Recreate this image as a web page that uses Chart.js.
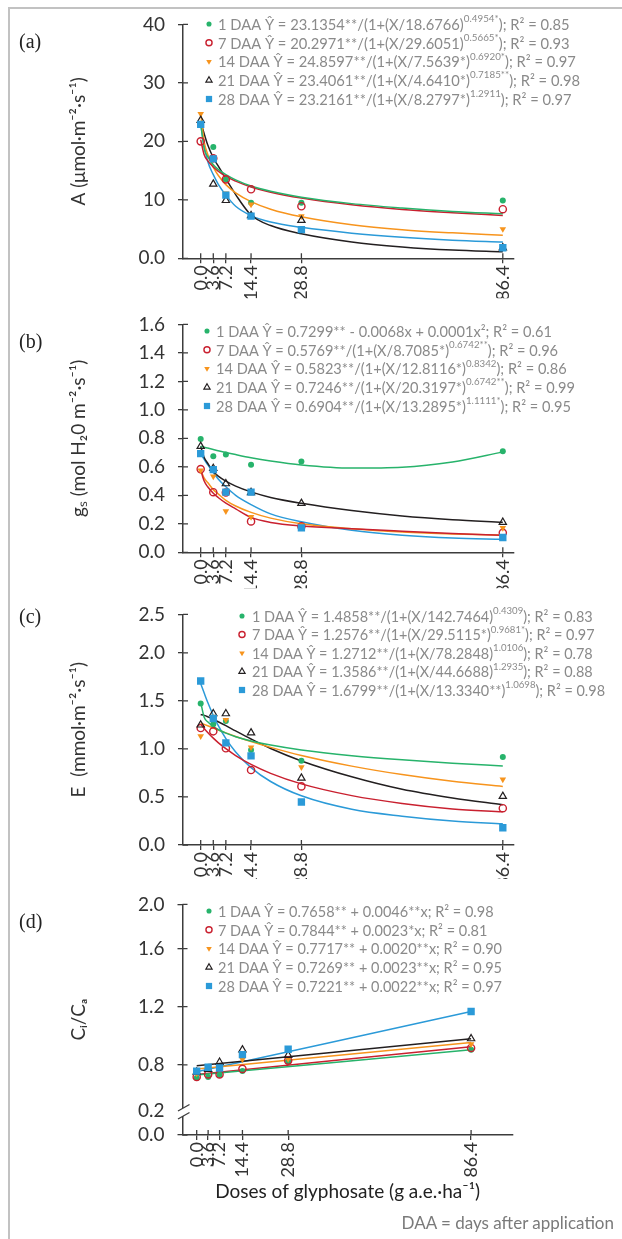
<!DOCTYPE html>
<html>
<head>
<meta charset="utf-8">
<script src="https://cdn.jsdelivr.net/npm/chart.js@4.4.1/dist/chart.umd.min.js"></script>
<style>
  body { margin: 0; background: #fff; }
  #page { position: relative; width: 622px; height: 1239px; overflow: hidden; }
  #frame { position: absolute; left: 8px; top: 7px; width: 700px; height: 1300px;
           border-top: 2px solid #c2c2c2; border-left: 2px solid #c2c2c2; }
  canvas { position: absolute; left: 0; }
  .tag { position: absolute; left: 19px; font: 20px "Liberation Serif", serif; color: #222; }
  #note { position: absolute; right: 8px; top: 1212px; font: 17px Lato, sans-serif; color: #7a7a7a; }
</style>
</head>
<body>
<div id="page">
  <div id="frame"></div>
  <canvas id="chartA" width="622" height="300" style="top:0px"></canvas>
  <canvas id="chartB" width="622" height="290" style="top:300px"></canvas>
  <canvas id="chartC" width="622" height="290" style="top:590px"></canvas>
  <canvas id="chartD" width="622" height="359" style="top:880px"></canvas>
  <div class="tag" style="top:30px">(a)</div>
  <div class="tag" style="top:330px">(b)</div>
  <div class="tag" style="top:605px">(c)</div>
  <div class="tag" style="top:910px">(d)</div>
  <div id="note">DAA = days after application</div>
</div>
<script>
// glyphosate doses (g a.e./ha) where leaves were measured
const doses = [0, 3.6, 7.2, 14.4, 28.8, 86.4];
const fitX = [0, 1, 2, 3.6, 5, 7.2, 10, 14.4, 20, 28.8, 43.2, 57.6, 72, 86.4];
const lineX = [0, 86.4];
const daa = ['1 DAA', '7 DAA', '14 DAA', '21 DAA', '28 DAA'];

// (a) A, net photosynthesis
const aTicks = [0, 10, 20, 30, 40];
const aObs = [
  [23.0, 19.05, 13.5, 9.5, 9.5, 9.9],
  [20.0, 17.1, 13.5, 11.8, 8.9, 8.4],
  [24.7, 17.0, 11.1, 9.2, 7.2, 5.0],
  [23.6, 12.7, 9.9, 7.3, 6.5, 1.8],
  [22.9, 17.0, 10.8, 7.2, 4.9, 1.8]
];
const aFit = [
  [23.1, 18.7, 17.4, 16.0, 15.2, 14.3, 13.4, 12.35, 11.45, 10.45, 9.35, 8.6, 8.0, 7.6],
  [20.3, 17.7, 16.7, 15.6, 14.9, 14.0, 13.2, 12.2, 11.3, 10.3, 9.15, 8.35, 7.8, 7.33],
  [24.9, 19.9, 17.8, 15.6, 14.2, 12.6, 11.2, 9.7, 8.4, 7.1, 5.75, 4.9, 4.35, 3.93],
  [23.4, 21.3, 19.4, 17.2, 15.8, 13.6, 10.9, 7.4, 5.6, 4.2, 2.8, 1.95, 1.4, 1.1],
  [22.9, 19.3, 16.6, 14.3, 12.7, 10.8, 8.9, 7.3, 6.2, 5.3, 4.3, 3.6, 3.1, 2.77]
];
const aEq = [
  ['1 DAA Ŷ = 23.1354**/(1+(X/18.6766)', '0.4954*', '); R² = 0.85'],
  ['7 DAA Ŷ = 20.2971**/(1+(X/29.6051)', '0.5665*', '); R² = 0.93'],
  ['14 DAA Ŷ = 24.8597**/(1+(X/7.5639*)', '0.6920*', '); R² = 0.97'],
  ['21 DAA Ŷ = 23.4061**/(1+(X/4.6410*)', '0.7185**', '); R² = 0.98'],
  ['28 DAA Ŷ = 23.2161**/(1+(X/8.2797*)', '1.2911', '); R² = 0.97']
];

// (b) gs, stomatal conductance
const bTicks = [0, 0.2, 0.4, 0.6, 0.8, 1.0, 1.2, 1.4, 1.6];
const bObs = [
  [0.795, 0.675, 0.687, 0.615, 0.637, 0.709],
  [0.584, 0.422, 0.42, 0.217, 0.182, 0.137],
  [0.575, 0.533, 0.289, 0.249, 0.189, 0.171],
  [0.744, 0.589, 0.482, 0.42, 0.344, 0.211],
  [0.693, 0.58, 0.422, 0.422, 0.171, 0.104]
];
const bFit = [
  [0.745, 0.738, 0.732, 0.722, 0.713, 0.701, 0.686, 0.664, 0.641, 0.613, 0.591, 0.597, 0.634, 0.705],
  [0.58, 0.50, 0.46, 0.415, 0.385, 0.345, 0.305, 0.245, 0.21, 0.185, 0.165, 0.148, 0.132, 0.12],
  [0.58, 0.52, 0.49, 0.44, 0.41, 0.365, 0.325, 0.28, 0.24, 0.2, 0.165, 0.142, 0.128, 0.12],
  [0.745, 0.665, 0.625, 0.567, 0.535, 0.50, 0.465, 0.424, 0.385, 0.344, 0.293, 0.255, 0.229, 0.211],
  [0.69, 0.653, 0.615, 0.56, 0.515, 0.46, 0.40, 0.335, 0.27, 0.215, 0.155, 0.12, 0.10, 0.092]
];
const bEq = [
  ['1 DAA Ŷ = 0.7299** - 0.0068x + 0.0001x²; R² = 0.61'],
  ['7 DAA Ŷ = 0.5769**/(1+(X/8.7085*)', '0.6742**', '); R² = 0.96'],
  ['14 DAA Ŷ = 0.5823**/(1+(X/12.8116*)', '0.8342', '); R² = 0.86'],
  ['21 DAA Ŷ = 0.7246**/(1+(X/20.3197*)', '0.6742**', '); R² = 0.99'],
  ['28 DAA Ŷ = 0.6904**/(1+(X/13.2895*)', '1.1111*', '); R² = 0.95']
];

// (c) E, transpiration
const cTicks = [0, 0.5, 1.0, 1.5, 2.0, 2.5];
const cObs = [
  [1.473, 1.257, 1.29, 0.99, 0.877, 0.917],
  [1.217, 1.183, 1.007, 0.78, 0.61, 0.383],
  [1.133, 1.337, 1.303, 1.017, 0.81, 0.683],
  [1.25, 1.367, 1.367, 1.167, 0.697, 0.507],
  [1.707, 1.317, 1.063, 0.927, 0.447, 0.18]
];
const cFit = [
  [1.486, 1.329, 1.282, 1.233, 1.202, 1.164, 1.127, 1.083, 1.040, 0.989, 0.930, 0.886, 0.851, 0.823],
  [1.258, 1.212, 1.171, 1.112, 1.066, 1.002, 0.931, 0.839, 0.746, 0.636, 0.514, 0.432, 0.375, 0.345],
  [1.271, 1.256, 1.241, 1.217, 1.197, 1.167, 1.130, 1.077, 1.016, 0.932, 0.821, 0.733, 0.663, 0.61],
  [1.359, 1.349, 1.335, 1.308, 1.283, 1.242, 1.187, 1.103, 1.004, 0.875, 0.71, 0.58, 0.49, 0.42],
  [1.68, 1.581, 1.485, 1.348, 1.244, 1.107, 0.968, 0.806, 0.661, 0.512, 0.372, 0.30, 0.25, 0.22]
];
const cEq = [
  ['1 DAA Ŷ = 1.4858**/(1+(X/142.7464)', '0.4309', '); R² = 0.83'],
  ['7 DAA Ŷ = 1.2576**/(1+(X/29.5115*)', '0.9681*', '); R² = 0.97'],
  ['14 DAA Ŷ = 1.2712**/(1+(X/78.2848)', '1.0106', '); R² = 0.78'],
  ['21 DAA Ŷ = 1.3586**/(1+(X/44.6688)', '1.2935', '); R² = 0.88'],
  ['28 DAA Ŷ = 1.6799**/(1+(X/13.3340**)', '1.0698', '); R² = 0.98']
];

// (d) Ci/Ca
const dTicks = [0, 0.2, 0.8, 1.2, 1.6, 2.0];
const dObs = [
  [0.71, 0.717, 0.73, 0.757, 0.822, 0.903],
  [0.717, 0.734, 0.734, 0.772, 0.829, 0.916],
  [0.74, 0.785, 0.785, 0.837, 0.84, 0.942],
  [0.75, 0.77, 0.818, 0.903, 0.866, 0.98],
  [0.757, 0.783, 0.778, 0.87, 0.907, 1.167]
];
const dFit = [
  [0.73, 0.903],
  [0.734, 0.925],
  [0.772, 0.953],
  [0.794, 0.98],
  [0.752, 1.167]
];
const dEq = [
  ['1 DAA Ŷ = 0.7658** + 0.0046**x; R² = 0.98'],
  ['7 DAA Ŷ = 0.7844** + 0.0023*x; R² = 0.81'],
  ['14 DAA Ŷ = 0.7717** + 0.0020**x; R² = 0.90'],
  ['21 DAA Ŷ = 0.7269** + 0.0023**x; R² = 0.95'],
  ['28 DAA Ŷ = 0.7221** + 0.0022**x; R² = 0.97']
];

const colors = ['#27b36b', '#c9202f', '#f7941d', '#231f20', '#2b9ad8'];
const markers = [
  { pointStyle: 'circle', radius: 3, bg: colors[0], bw: 0, rot: 0 },
  { pointStyle: 'circle', radius: 3.6, bg: 'rgba(0,0,0,0)', bw: 1.4, rot: 0 },
  { pointStyle: 'triangle', radius: 3.8, bg: colors[2], bw: 0, rot: 180 },
  { pointStyle: 'triangle', radius: 4.2, bg: 'rgba(0,0,0,0)', bw: 1.2, rot: 0 },
  { pointStyle: 'rect', radius: 5.2, bg: colors[4], bw: 0, rot: 0 }
];
const axisColor = '#3c3c3c';
const textColor = '#333';

// y scale whose spacing between tick values is not uniform (compressed top step, axis break)
class PiecewiseScale extends Chart.LinearScale {
  getPixelForValue(value) {
    const vs = this.options.knotValues, fs = this.options.knotFracs;
    let i = 1;
    while (i < vs.length - 1 && value > vs[i]) i++;
    const f = fs[i - 1] + (value - vs[i - 1]) / (vs[i] - vs[i - 1]) * (fs[i] - fs[i - 1]);
    return this.getPixelForDecimal(f);
  }
  getValueForPixel(pixel) {
    const vs = this.options.knotValues, fs = this.options.knotFracs;
    const f = this.getDecimalForPixel(pixel);
    let i = 1;
    while (i < fs.length - 1 && f > fs[i]) i++;
    return vs[i - 1] + (f - fs[i - 1]) / (fs[i] - fs[i - 1]) * (vs[i] - vs[i - 1]);
  }
}
PiecewiseScale.id = 'piecewise';
PiecewiseScale.defaults = Chart.LinearScale.defaults;
Chart.register(PiecewiseScale);

// tick marks cross the axes: draw the half that sits inside the plot
const innerTicks = {
  id: 'innerTicks',
  afterDraw(chart, args, opts) {
    const { ctx, chartArea, scales: { x, y } } = chart;
    ctx.save();
    ctx.strokeStyle = axisColor;
    ctx.lineWidth = 1.3;
    ctx.beginPath();
    x.ticks.forEach(t => {
      const px = x.getPixelForValue(t.value);
      ctx.moveTo(px, chartArea.bottom);
      ctx.lineTo(px, chartArea.bottom - 5);
    });
    y.ticks.forEach(t => {
      if (opts.breakAt !== undefined && t.value === opts.breakAt) return;
      const py = y.getPixelForValue(t.value);
      ctx.moveTo(chartArea.left, py);
      ctx.lineTo(chartArea.left + 5, py);
    });
    ctx.stroke();
    if (opts.breakAt !== undefined) {
      const bx = chartArea.left, by = y.getPixelForValue(opts.breakAt);
      ctx.fillStyle = '#fff';
      ctx.fillRect(bx - 2, by - 3, 4, 8);
      ctx.beginPath();
      ctx.moveTo(bx - 4.5, by);
      ctx.lineTo(bx + 7, by - 6.5);
      ctx.moveTo(bx - 4.5, by + 8);
      ctx.lineTo(bx + 7, by + 1.5);
      ctx.stroke();
    }
    ctx.restore();
  }
};

// legend with the fitted equations, exponents set as superscripts
function lineWidth(ctx, parts) {
  let w = 0;
  parts.forEach((s, k) => {
    ctx.font = k % 2 === 1 ? '10px Lato' : '15px Lato';
    w += ctx.measureText(s).width;
  });
  return w;
}

const eqLegend = {
  id: 'eqLegend',
  afterDraw(chart, args, opts) {
    const ctx = chart.ctx;
    ctx.save();
    ctx.textBaseline = 'middle';
    // the printed equations are set a little wider or narrower per panel
    const widest = Math.max(...opts.lines.map(parts => lineWidth(ctx, parts)));
    const stretch = (opts.endX - opts.textX) / widest;
    opts.lines.forEach((parts, i) => {
      const y = opts.y + i * opts.step;
      const m = markers[i];
      ctx.fillStyle = m.bg;
      ctx.strokeStyle = colors[i];
      ctx.lineWidth = m.bw;
      Chart.helpers.drawPoint(ctx, { pointStyle: m.pointStyle, radius: m.radius * 0.85, rotation: m.rot, borderWidth: m.bw }, opts.markerX, y);
      ctx.save();
      ctx.translate(opts.textX, y);
      ctx.scale(stretch, 1);
      ctx.fillStyle = '#8a8a8a';
      let x = 0;
      parts.forEach((s, k) => {
        const sup = k % 2 === 1;
        ctx.font = sup ? '10px Lato' : '15px Lato';
        ctx.fillText(s, x, sup ? -5 : 1);
        x += ctx.measureText(s).width;
      });
      ctx.restore();
    });
    ctx.restore();
  }
};

function makePanel(id, p) {
  const datasets = [];
  p.fit.forEach((row, i) => {
    datasets.push({
      data: p.fitX.map((x, j) => ({ x: x, y: row[j] })),
      showLine: true,
      pointRadius: 0,
      borderColor: colors[i],
      borderWidth: 1.5,
      cubicInterpolationMode: 'monotone',
      order: 20
    });
  });
  p.obs.forEach((row, i) => {
    const m = markers[i];
    datasets.push({
      label: daa[i],
      data: doses.map((d, j) => ({ x: d, y: row[j] })),
      showLine: false,
      pointStyle: m.pointStyle,
      pointRotation: m.rot,
      pointRadius: m.radius,
      pointHoverRadius: m.radius,
      pointBackgroundColor: m.bg,
      pointBorderColor: colors[i],
      pointBorderWidth: m.bw,
      order: 5 - i
    });
  });

  const yScale = {
    type: p.knots ? 'piecewise' : 'linear',
    min: p.yMin,
    max: p.yMax,
    afterBuildTicks: s => { s.ticks = p.yTicks.map(v => ({ value: v })); },
    afterFit: s => { s.width = p.yWidth; },
    ticks: { padding: 13, color: textColor, font: { family: 'Lato', size: 19 }, callback: p.yFmt },
    grid: {
      drawOnChartArea: false, tickLength: 5, lineWidth: 1.3,
      color: c => (p.breakAt !== undefined && c.tick && c.tick.value === p.breakAt) ? 'rgba(0,0,0,0)' : axisColor
    },
    border: { color: axisColor, width: 1.5 },
    title: { display: true, text: p.yTitle, color: textColor, font: { family: 'Lato', size: 19 }, padding: { top: 67.6, bottom: 0 } }
  };
  if (p.knots) {
    yScale.knotValues = p.knots[0];
    yScale.knotFracs = p.knots[1];
  }

  const xScale = {
    type: 'linear',
    min: p.xMin,
    max: p.xMax,
    afterBuildTicks: s => { s.ticks = doses.map(v => ({ value: v })); },
    afterFit: s => { s.height = p.xHeight; },
    ticks: { autoSkip: false, minRotation: 90, maxRotation: 90, padding: 2, color: textColor,
             font: { family: 'Lato', size: 18 }, callback: v => v.toFixed(1) },
    grid: { drawOnChartArea: false, tickLength: 5, lineWidth: 1.3, color: axisColor },
    border: { color: axisColor, width: 1.5 },
    title: p.xTitle
      ? { display: true, text: p.xTitle, color: '#222', font: { family: 'Lato', size: 19 }, padding: { top: 0, bottom: 15.6 } }
      : { display: false }
  };

  return new Chart(document.getElementById(id), {
    type: 'scatter',
    data: { datasets: datasets },
    options: {
      responsive: false,
      animation: false,
      events: [],
      layout: { padding: p.pad },
      plugins: {
        legend: { display: false },
        tooltip: { enabled: false },
        innerTicks: { breakAt: p.breakAt },
        eqLegend: { lines: p.eq, y: p.legY, step: p.legStep, markerX: p.legMarkerX, textX: p.legTextX, endX: p.legEndX }
      },
      scales: { x: xScale, y: yScale }
    },
    plugins: [innerTicks, eqLegend]
  });
}

makePanel('chartA', {
  obs: aObs, fit: aFit, fitX: fitX, eq: aEq,
  yMin: 0, yMax: 40, yTicks: aTicks, yFmt: v => (v === 0 ? '0.0' : v.toFixed(0)),
  yTitle: 'A (μmol·m⁻²·s⁻¹)', yWidth: 183,
  xMin: -5.06, xMax: 89.6, xHeight: 40,
  pad: { top: 18.3, right: 108, bottom: 1.7, left: 0 },
  legY: 24, legStep: 18.75, legMarkerX: 209, legTextX: 218, legEndX: 580
});

makePanel('chartB', {
  obs: bObs, fit: bFit, fitX: fitX, eq: bEq,
  yMin: 0, yMax: 1.6, yTicks: bTicks, yFmt: v => v.toFixed(1),
  yTitle: 'gₛ (mol H₂0 m⁻²·s⁻¹)', yWidth: 183,
  xMin: -5.06, xMax: 89.6, xHeight: 36,
  pad: { top: 12.7, right: 108, bottom: 1.7, left: 0 },
  legY: 31, legStep: 18.75, legMarkerX: 207, legTextX: 216, legEndX: 575
});

makePanel('chartC', {
  obs: cObs, fit: cFit, fitX: fitX, eq: cEq,
  yMin: 0, yMax: 2.5, yTicks: cTicks, yFmt: v => v.toFixed(1),
  knots: [[0, 2.0, 2.5], [0, 200 / 240, 1]],
  yTitle: 'E  (mmol·m⁻²·s⁻¹)', yWidth: 183,
  xMin: -5.06, xMax: 89.6, xHeight: 34,
  pad: { top: 15, right: 108, bottom: 1, left: 0 },
  legY: 26, legStep: 18.5, legMarkerX: 242, legTextX: 252, legEndX: 605
});

makePanel('chartD', {
  obs: dObs, fit: dFit, fitX: lineX, eq: dEq,
  yMin: 0, yMax: 2.0, yTicks: dTicks, yFmt: v => v.toFixed(1),
  knots: [[0, 0.2, 0.6, 1.6, 2.0], [0, 25 / 240, 42.8 / 240, 194 / 240, 1]],
  breakAt: 0.2,
  yTitle: 'Cᵢ/Cₐ', yWidth: 182.5,
  xMin: -4.47, xMax: 99.5, xHeight: 84, xTitle: 'Doses of glyphosate (g a.e.·ha⁻¹)',
  pad: { top: 15, right: 109.3, bottom: 20, left: 0 },
  legY: 31, legStep: 18.75, legMarkerX: 209, legTextX: 218, legEndX: 502
});
</script>
</body>
</html>
